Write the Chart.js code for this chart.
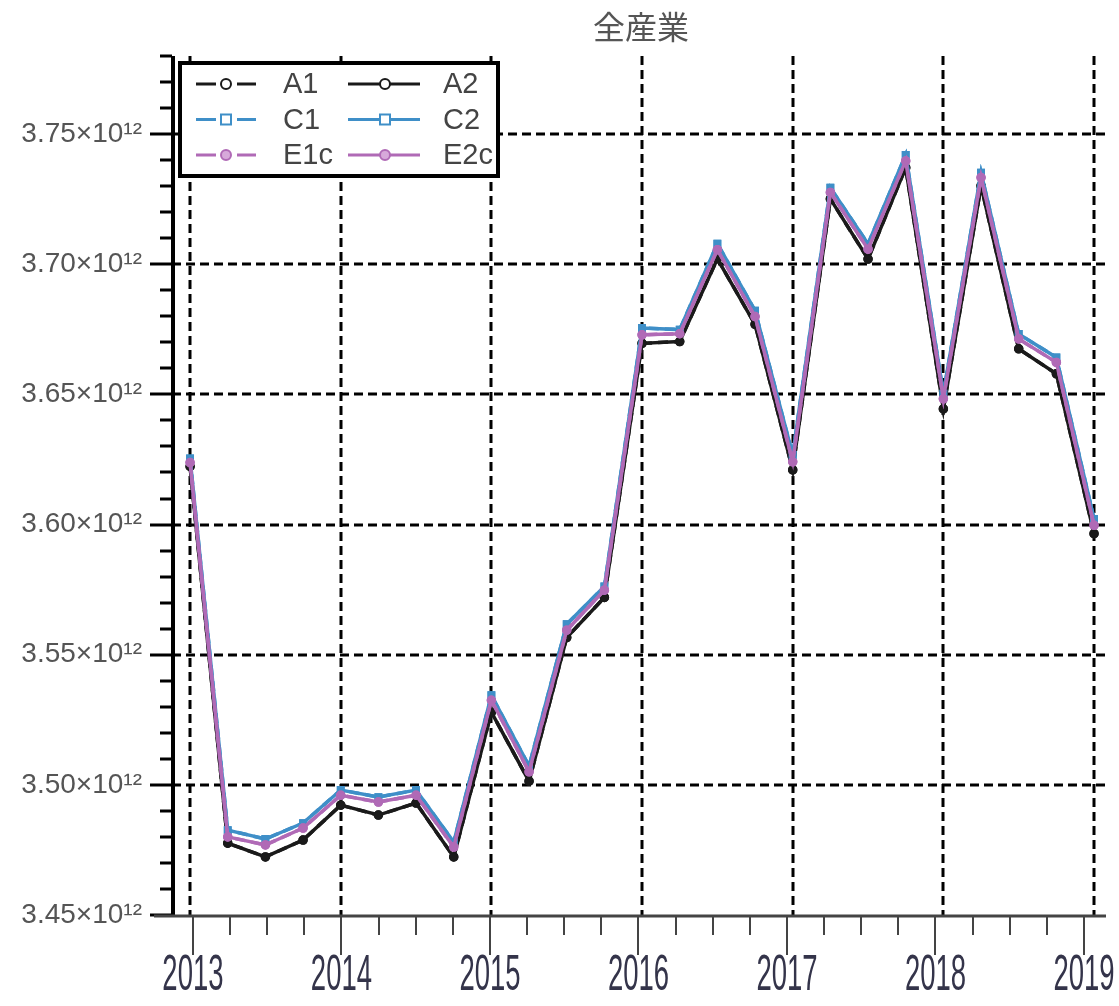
<!DOCTYPE html>
<html>
  <head>
    <title>全産業</title>
    <script src="https://cdn.jsdelivr.net/npm/chart.js"></script>
    <style>
      html, body { margin: 0; padding: 0; background: #fff; }
      #wrap { width: 1119px; height: 1006px; }
    </style>
  </head>
  <body>
    <div id="wrap"><canvas id="chart"></canvas></div>

    <script>
      // quarterly points, 2013Q1 .. 2019Q1 (values in units of 10^12)
      const quarters = [
        2013, 2013.25, 2013.5, 2013.75, 2014, 2014.25, 2014.5, 2014.75,
        2015, 2015.25, 2015.5, 2015.75, 2016, 2016.25, 2016.5, 2016.75,
        2017, 2017.25, 2017.5, 2017.75, 2018, 2018.25, 2018.5, 2018.75, 2019
      ];
      const yearLabels = ["2013", "2014", "2015", "2016", "2017", "2018", "2019"];
      const yTickValues = [3.45, 3.50, 3.55, 3.60, 3.65, 3.70, 3.75];

      const a1 = [3.6223, 3.4776, 3.4723, 3.4788, 3.4922, 3.4884, 3.4930, 3.4723,
        3.5279, 3.5014, 3.5566, 3.5720, 3.6696, 3.6703, 3.7021, 3.6769,
        3.6210, 3.7251, 3.7020, 3.7371, 3.6444, 3.7301, 3.6675, 3.6579, 3.5965];
      const a2 = [3.6223, 3.4776, 3.4723, 3.4788, 3.4922, 3.4884, 3.4930, 3.4723,
        3.5279, 3.5014, 3.5566, 3.5720, 3.6696, 3.6703, 3.7021, 3.6769,
        3.6210, 3.7251, 3.7020, 3.7371, 3.6444, 3.7301, 3.6675, 3.6579, 3.5965];
      const c1 = [3.6254, 3.4826, 3.4792, 3.4853, 3.4980, 3.4953, 3.4980, 3.4780,
        3.5344, 3.5072, 3.5617, 3.5762, 3.6755, 3.6749, 3.7079, 3.6822,
        3.6267, 3.7294, 3.7078, 3.7420, 3.6503, 3.7352, 3.6732, 3.6642, 3.6022];
      const c2 = [3.6254, 3.4826, 3.4792, 3.4853, 3.4980, 3.4953, 3.4980, 3.4780,
        3.5344, 3.5072, 3.5617, 3.5762, 3.6755, 3.6749, 3.7079, 3.6822,
        3.6267, 3.7294, 3.7078, 3.7420, 3.6503, 3.7352, 3.6732, 3.6642, 3.6022];
      const e1c = [3.6238, 3.4800, 3.4769, 3.4834, 3.4960, 3.4934, 3.4960, 3.4761,
        3.5325, 3.5050, 3.5594, 3.5748, 3.6729, 3.6733, 3.7056, 3.6799,
        3.6241, 3.7276, 3.7058, 3.7397, 3.6483, 3.7333, 3.6713, 3.6623, 3.5997];
      const e2c = [3.6238, 3.4800, 3.4769, 3.4834, 3.4960, 3.4934, 3.4960, 3.4761,
        3.5325, 3.5050, 3.5594, 3.5748, 3.6729, 3.6733, 3.7056, 3.6799,
        3.6241, 3.7276, 3.7058, 3.7397, 3.6483, 3.7333, 3.6713, 3.6623, 3.5997];

      const BLACK = "#1a1a1a";
      const BLUE = "#3f8fc8";
      const PURPLE = "#b06ab6";
      const DASH = [10, 6];

      function points(vals) {
        return vals.map((v, i) => ({ x: quarters[i], y: v * 1e12 }));
      }

      function series(label, vals, color, dashed, style, order) {
        return {
          label: label,
          data: points(vals),
          borderColor: color,
          borderWidth: 3.5,
          borderDash: dashed ? DASH : [],
          pointStyle: style,
          pointRadius: style === "rect" ? 4.5 : 4,
          pointBorderWidth: 1.5,
          pointBorderColor: color,
          pointBackgroundColor: color,
          fill: false,
          tension: 0,
          order: order,
        };
      }

      const legendRows = [
        ["A1", BLACK, "circle", "#fff", "A2"],
        ["C1", BLUE, "rect", "#fff", "C2"],
        ["E1c", PURPLE, "circle", "#d7a9da", "E2c"],
      ];

      function marker(ctx, style, x, y, color, fill) {
        ctx.save();
        ctx.setLineDash([]);
        ctx.lineWidth = 2;
        ctx.strokeStyle = color;
        ctx.fillStyle = fill;
        ctx.beginPath();
        if (style === "rect") ctx.rect(x - 5, y - 5, 10, 10);
        else ctx.arc(x, y, 5, 0, Math.PI * 2);
        ctx.fill();
        ctx.stroke();
        ctx.restore();
      }

      // grid, axis lines, tick marks, year labels and the legend box
      const decorations = {
        id: "decorations",
        beforeDatasetsDraw(chart) {
          const { ctx, chartArea: ca, scales } = chart;
          const xs = scales.x, ys = scales.y;
          ctx.save();
          ctx.strokeStyle = "#000";
          ctx.lineWidth = 3;
          ctx.setLineDash([9, 5]);
          yearLabels.forEach((yr) => {
            const px = Math.round(xs.getPixelForValue(+yr));
            ctx.beginPath();
            ctx.moveTo(px, ca.top);
            ctx.lineTo(px, ca.bottom);
            ctx.stroke();
          });
          yTickValues.slice(1).forEach((v) => {
            const py = Math.round(ys.getPixelForValue(v * 1e12));
            ctx.beginPath();
            ctx.moveTo(ca.left, py);
            ctx.lineTo(ca.right, py);
            ctx.stroke();
          });
          ctx.restore();
        },
        afterDraw(chart) {
          const { ctx, chartArea: ca, scales } = chart;
          const ys = scales.y, xt = scales.xTicks;
          ctx.save();
          ctx.setLineDash([]);

          // y axis tick marks (minor every 0.01, major every 0.05)
          ctx.strokeStyle = "#000";
          ctx.lineWidth = 3;
          for (let k = 345; k <= 378; k++) {
            const py = Math.round(ys.getPixelForValue(k * 1e10));
            const len = k % 5 === 0 ? 22 : 12;
            ctx.beginPath();
            ctx.moveTo(ca.left - len, py);
            ctx.lineTo(ca.left, py);
            ctx.stroke();
          }
          // y axis line
          ctx.lineWidth = 4;
          ctx.beginPath();
          ctx.moveTo(ca.left + 1, ca.top);
          ctx.lineTo(ca.left + 1, ca.bottom);
          ctx.stroke();

          // x axis line and quarter ticks
          ctx.strokeStyle = "#444";
          ctx.lineWidth = 3;
          ctx.beginPath();
          ctx.moveTo(ca.left - 18, ca.bottom + 1);
          ctx.lineTo(ca.right - 4, ca.bottom + 1);
          ctx.stroke();
          ctx.lineWidth = 2;
          quarters.forEach((q) => {
            const px = Math.round(xt.getPixelForValue(q));
            const len = Number.isInteger(q) ? 40 : 20;
            ctx.beginPath();
            ctx.moveTo(px, ca.bottom + 1);
            ctx.lineTo(px, ca.bottom + len);
            ctx.stroke();
          });

          // condensed year labels
          ctx.fillStyle = "#34344a";
          ctx.textAlign = "center";
          ctx.textBaseline = "middle";
          ctx.font = "50px 'Liberation Sans', Arial, sans-serif";
          yearLabels.forEach((yr) => {
            const px = xt.getPixelForValue(+yr);
            ctx.save();
            ctx.translate(px, ca.bottom + 61);
            ctx.scale(0.55, 1);
            ctx.fillText(yr, 0, 0);
            ctx.restore();
          });

          // legend
          const bx = ca.left + 8, by = ca.top + 7, bw = 318, bh = 113;
          ctx.fillStyle = "#fff";
          ctx.fillRect(bx, by, bw, bh);
          ctx.strokeStyle = "#000";
          ctx.lineWidth = 4;
          ctx.strokeRect(bx, by, bw, bh);
          ctx.font = "29px 'Liberation Sans', Arial, sans-serif";
          ctx.textAlign = "left";
          legendRows.forEach((row, i) => {
            const [l1, color, style, fill, l2] = row;
            const ry = by + 21 + i * 35.5;
            ctx.strokeStyle = color;
            ctx.lineWidth = 3;
            // dashed sample: two strokes with the marker between
            ctx.beginPath();
            ctx.moveTo(bx + 16, ry);
            ctx.lineTo(bx + 36, ry);
            ctx.moveTo(bx + 57, ry);
            ctx.lineTo(bx + 76, ry);
            ctx.stroke();
            marker(ctx, style, bx + 46, ry, color, fill);
            // solid sample
            ctx.beginPath();
            ctx.moveTo(bx + 168, ry);
            ctx.lineTo(bx + 240, ry);
            ctx.stroke();
            marker(ctx, style, bx + 205, ry, color, fill);
            ctx.fillStyle = "#444";
            ctx.fillText(l1, bx + 103, ry + 1);
            ctx.fillText(l2, bx + 263, ry + 1);
          });
          ctx.restore();
        },
      };

      new Chart(document.getElementById("chart").getContext("2d"), {
        type: "line",
        data: {
          datasets: [
            series("A1", a1, BLACK, true, "circle", 3),
            series("A2", a2, BLACK, false, "circle", 3),
            series("C1", c1, BLUE, true, "rect", 2),
            series("C2", c2, BLUE, false, "rect", 2),
            series("E1c", e1c, PURPLE, true, "circle", 1),
            series("E2c", e2c, PURPLE, false, "circle", 1),
          ],
        },
        plugins: [decorations],
        options: {
          responsive: true,
          maintainAspectRatio: false,
          animation: false,
          layout: { padding: { left: 0, right: 9, top: 0, bottom: 0 } },
          plugins: {
            legend: { display: false },
            tooltip: { enabled: false },
            title: {
              display: true,
              text: "全産業",
              fullSize: false,
              color: "#555",
              font: { family: "'Noto Sans CJK JP', sans-serif", size: 32, weight: "normal", lineHeight: 1.2 },
              padding: { top: 8, bottom: 9.6 },
            },
          },
          scales: {
            x: {
              type: "linear",
              position: "bottom",
              min: 2012.88,
              max: 2019.106,
              grid: { display: false },
              border: { display: false },
              ticks: { display: false, stepSize: 1 },
              afterFit(scale) { scale.height = 91; },
            },
            // the printed time axis sits slightly compressed against the grid
            xTicks: {
              type: "linear",
              position: "bottom",
              min: 2012.859,
              max: 2019.175,
              grid: { display: false },
              border: { display: false },
              ticks: { display: false },
              afterFit(scale) { scale.height = 0; },
            },
            y: {
              type: "linear",
              min: 3.45e12,
              max: 3.78e12,
              grid: { display: false },
              border: { display: false },
              afterBuildTicks(scale) {
                scale.ticks = yTickValues.map((v) => ({ value: v * 1e12 }));
              },
              ticks: {
                padding: 22,
                color: "#555",
                font: { family: "'Liberation Sans', Arial, sans-serif", size: 28 },
                callback: (v) => (v / 1e12).toFixed(2) + "×10¹²",
              },
              afterFit(scale) { scale.width = 172; },
            },
          },
        },
      });
    </script>
  </body>
</html>
